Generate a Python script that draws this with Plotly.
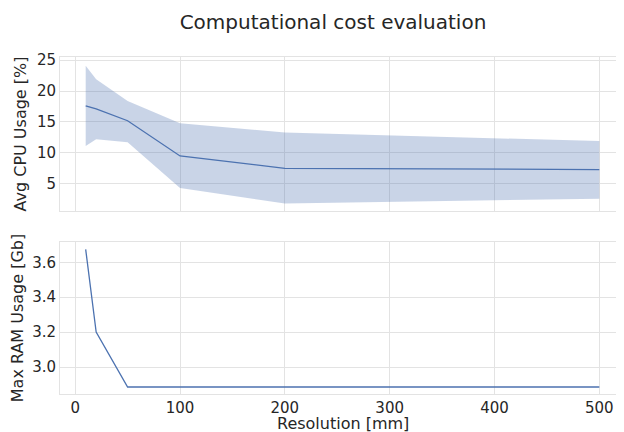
import plotly.graph_objects as go
from plotly.subplots import make_subplots

resolution = [10, 20, 50, 100, 200, 500]
cpu_mean = [17.6, 17.1, 15.2, 9.5, 7.5, 7.3]
cpu_upper = [24.1, 21.9, 18.4, 14.8, 13.3, 11.9]
cpu_lower = [11.1, 12.2, 11.7, 4.3, 1.8, 2.6]
ram_max = [3.674, 3.20, 2.886, 2.886, 2.886, 2.886]

x_ticks = [0, 100, 200, 300, 400, 500]

BLUE = "#4c72b0"
GRID = "#e3e3e3"
TXT = "#262626"
FONT = "DejaVu Sans"

fig = make_subplots(rows=2, cols=1, shared_xaxes=True)

fig.add_trace(go.Scatter(x=resolution, y=cpu_upper, mode="lines",
                         line=dict(width=0, color=BLUE), showlegend=False,
                         hoverinfo="skip"), row=1, col=1)
fig.add_trace(go.Scatter(x=resolution, y=cpu_lower, mode="lines",
                         line=dict(width=0, color=BLUE), fill="tonexty",
                         fillcolor="rgba(76,114,176,0.3)", showlegend=False,
                         hoverinfo="skip"), row=1, col=1)
fig.add_trace(go.Scatter(x=resolution, y=cpu_mean, mode="lines",
                         line=dict(width=1.3, color=BLUE), showlegend=False),
              row=1, col=1)
fig.add_trace(go.Scatter(x=resolution, y=ram_max, mode="lines",
                         line=dict(width=1.3, color=BLUE), showlegend=False),
              row=2, col=1)

axis_common = dict(showgrid=True, gridcolor=GRID, gridwidth=1, automargin=False,
                   showline=True, linecolor=GRID, linewidth=1, mirror=True,
                   zeroline=False, ticks="", tickfont=dict(size=15, color=TXT, family=FONT))

fig.update_xaxes(**axis_common, range=[-14.5, 524.5], tickvals=x_ticks)
fig.update_xaxes(showticklabels=False, row=1, col=1)

fig.update_yaxes(**axis_common)
fig.update_yaxes(range=[0.6, 25.5], tickvals=[5, 10, 15, 20, 25],
                 title=dict(text="Avg CPU Usage [%]", font=dict(size=16, color=TXT, family=FONT), standoff=6),
                 row=1, col=1)
fig.update_yaxes(range=[2.846, 3.716], tickvals=[3.0, 3.2, 3.4, 3.6], tickformat=".1f",
                 title=dict(text="Max RAM Usage [Gb]", font=dict(size=16, color=TXT, family=FONT), standoff=6),
                 row=2, col=1)

fig.add_annotation(text="Resolution [mm]", xref="paper", yref="paper", x=0.5, y=0,
                   xanchor="center", yanchor="middle", yshift=-29, showarrow=False,
                   borderpad=0, font=dict(size=16, color=TXT, family=FONT))

fig.update_layout(
    width=624, height=432,
    margin=dict(l=52, r=7, t=49, b=46),
    paper_bgcolor="white", plot_bgcolor="white",
    font=dict(family=FONT, color=TXT),
    title=dict(text="Computational cost evaluation", x=325/624, xref="container",
               xanchor="center", y=1 - 14/432, yref="container", yanchor="middle",
               font=dict(size=20, color=TXT, family=FONT)),
    xaxis=dict(domain=[0, 1]),
    yaxis=dict(domain=[0.543, 1]),
    yaxis2=dict(domain=[0, 0.451]),
)

fig.write_html("out.html")
